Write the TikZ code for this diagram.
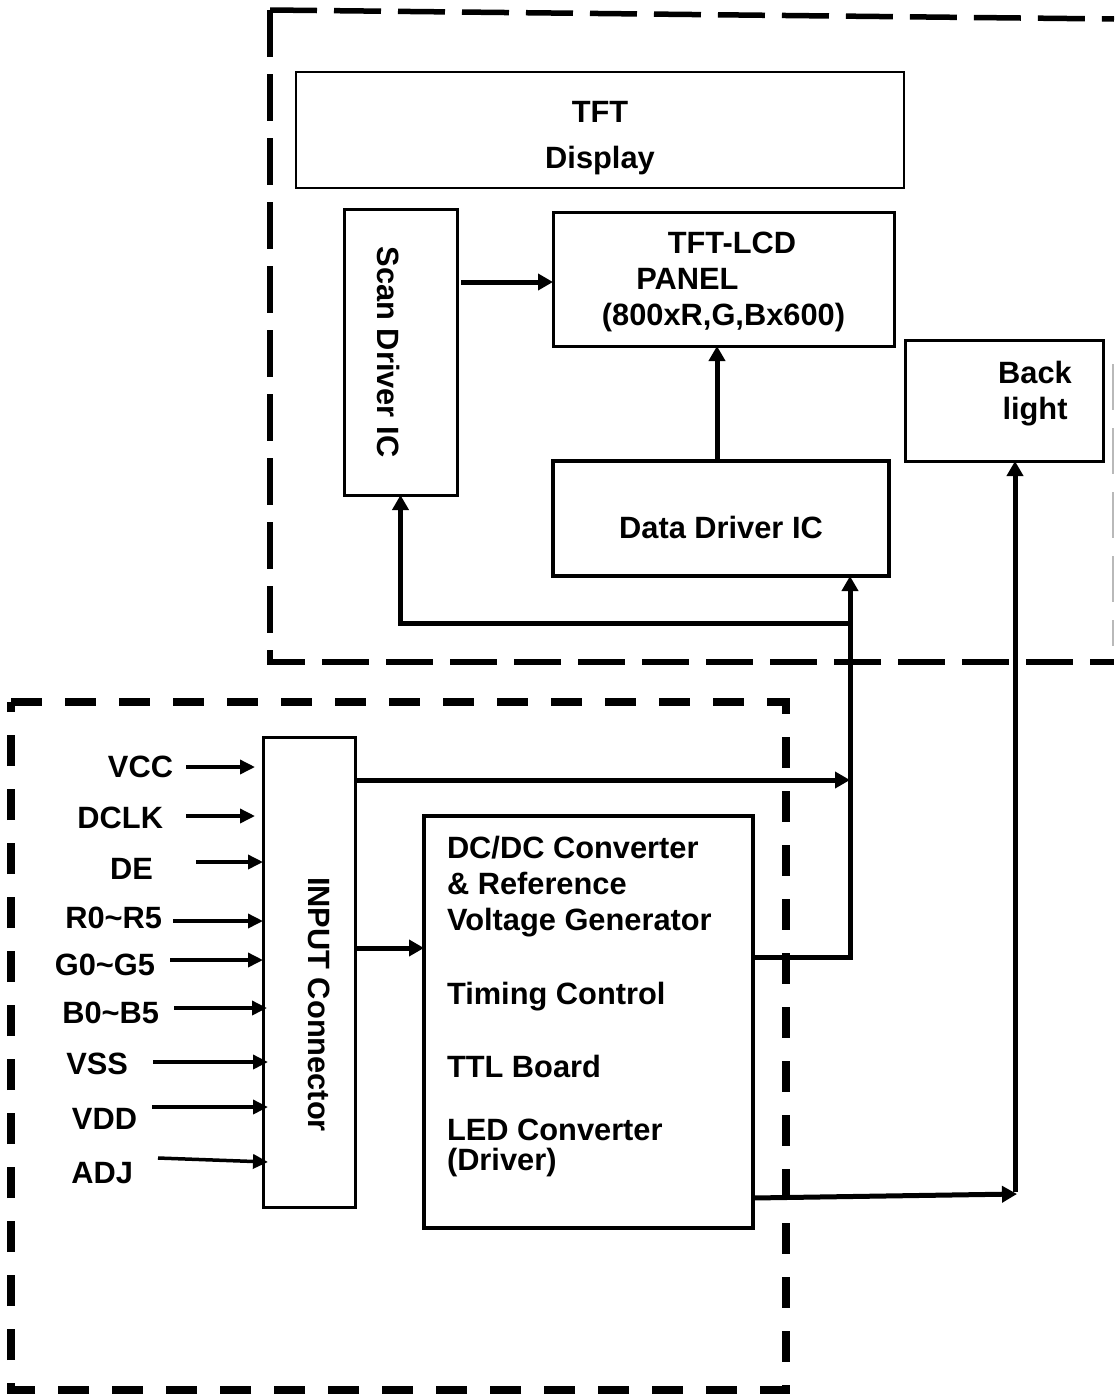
\documentclass[tikz,border=0pt]{standalone}
\usepackage{fontspec}
\setmainfont{Liberation Sans}
\usetikzlibrary{arrows.meta,calc}
\begin{document}
\begin{tikzpicture}[x=1pt,y=-1pt,
  txt/.style={font=\fontsize{30.8}{36}\selectfont\bfseries, inner sep=0pt, outer sep=0pt},
  blk/.style={draw, rectangle, inner sep=0pt, outer sep=0pt},
  big/.style={line width=5pt, -{Triangle[length=15pt,width=16pt]}},
  inarr/.style={line width=3.5pt, -{Triangle[length=15pt,width=14pt]}},
  dashtop/.style={line width=5.5pt, dash pattern=on 47pt off 17pt},
  dashbot/.style={line width=7.5pt, dash pattern=on 31pt off 23pt}]
\useasboundingbox (0,0) rectangle (1114,1395);

% dashed frames
\draw[dashtop] (270,10) -- (1114,19);
\draw[dashtop] (270,10) -- (270,662) -- (1114,662);
\draw[line width=2pt, gray!55, dash pattern=on 46pt off 18pt] (1113,364) -- (1113,646);
\draw[dashbot] (11,702) -- (786,702) -- (786,1390) -- (11,1390) -- cycle;

% boxes
\node[blk, line width=2pt, minimum width=608pt, minimum height=116pt] (disp) at (600,130) {};
\node[blk, line width=3pt, minimum width=113pt, minimum height=286pt] (scan) at (400.5,352) {};
\node[blk, line width=3pt, minimum width=341pt, minimum height=134pt] (panel) at (723.5,279) {};
\node[blk, line width=3.5pt, minimum width=336pt, minimum height=115pt] (data) at (721,518.5) {};
\node[blk, line width=3pt, minimum width=198pt, minimum height=121pt] (back) at (1004,400.5) {};
\node[blk, line width=3pt, minimum width=92pt, minimum height=470pt] (input) at (309,972) {};
\node[blk, line width=4pt, minimum width=329pt, minimum height=412pt] (dcdc) at (588.5,1022) {};

% texts
\node[txt, anchor=base] (t1) at (600,122) {TFT};
\node[txt, anchor=base] (t2) at (600,168) {Display};
\node[txt, anchor=base] (p1) at (732,253) {TFT-LCD};
\node[txt, anchor=base] (p2) at (687.5,289) {PANEL};
\node[txt, anchor=base] (p3) at (723.5,325) {(800xR,G,Bx600)};
\node[txt, anchor=base] (dt) at (721,538) {Data Driver IC};
\node[txt, anchor=base] (b1) at (1035,383) {Back};
\node[txt, anchor=base] (b2) at (1035,419) {light};
\node[txt, rotate=-90] (st) at (389,352) {Scan Driver IC};
\node[txt, rotate=-90] (it) at (319,1004.5) {INPUT Connector};
\node[txt, anchor=base west] (d1) at (447,858) {DC/DC Converter};
\node[txt, anchor=base west] (d2) at (447,894) {\& Reference};
\node[txt, anchor=base west] (d3) at (447,930) {Voltage Generator};
\node[txt, anchor=base west] (d4) at (447,1004) {Timing Control};
\node[txt, anchor=base west] (d5) at (447,1077) {TTL Board};
\node[txt, anchor=base west] (d6) at (447,1140) {LED Converter};
\node[txt, anchor=base west] (d7) at (447,1170) {(Driver)};

% input labels
\node[txt, anchor=base east] (lvcc) at (173,777) {VCC};
\node[txt, anchor=base east] (ldclk) at (163,828) {DCLK};
\node[txt, anchor=base east] (lde) at (153,879) {DE};
\node[txt, anchor=base east] (lr) at (162,928) {R0\textasciitilde R5};
\node[txt, anchor=base east] (lg) at (155,975) {G0\textasciitilde G5};
\node[txt, anchor=base east] (lb) at (159,1023) {B0\textasciitilde B5};
\node[txt, anchor=base east] (lvss) at (128,1074) {VSS};
\node[txt, anchor=base east] (lvdd) at (137,1129) {VDD};
\node[txt, anchor=base east] (ladj) at (133,1183) {ADJ};

% input arrows
\foreach \nm/\xs/\ys/\dx/\ye in {vcc/186/767/-8/767, dclk/186/816/-8/816, de/196/862/0/862,
    r/173/921/0/921, g/170/960/0/960, b/174/1008/4/1008, vss/153/1062/5/1062,
    vdd/152/1107/5/1107, adj/158/1158/5/1162}{
  \coordinate (\nm s) at (\xs,\ys);
  \coordinate (\nm e) at ($(input.west |- 0,\ye)+(\dx,0)$);
  \draw[inarr] (\nm s) -- (\nm e);
}

% internal connectors
\draw[big] ($(scan.east)+(4,-70)$) -- ($(panel.west)+(0,3)$);
\draw[big] ($(data.north)+(-4,0)$) -- ($(panel.south)+(-6.5,0)$);

\coordinate (jt) at (850,623);
\coordinate (jv) at (850,780);
\coordinate (jb) at (850,957);
\coordinate (jbl) at (1017,1194);
\coordinate (jbv) at (1015,1192);

\draw[big] (dcdc.east |- jb) -- (jb) -- (jb |- data.south);
\draw[big] (jt) -| (scan.south);
\draw[big] (input.east |- jv) -- (jv);
\draw[big] (input.east |- 0,948) -- (dcdc.west |- 0,948);
\draw[big] ($(dcdc.south east)+(0,-30)$) -- (jbl);
\draw[big] (jbv) -- (jbv |- back.south);
\end{tikzpicture}
\end{document}
